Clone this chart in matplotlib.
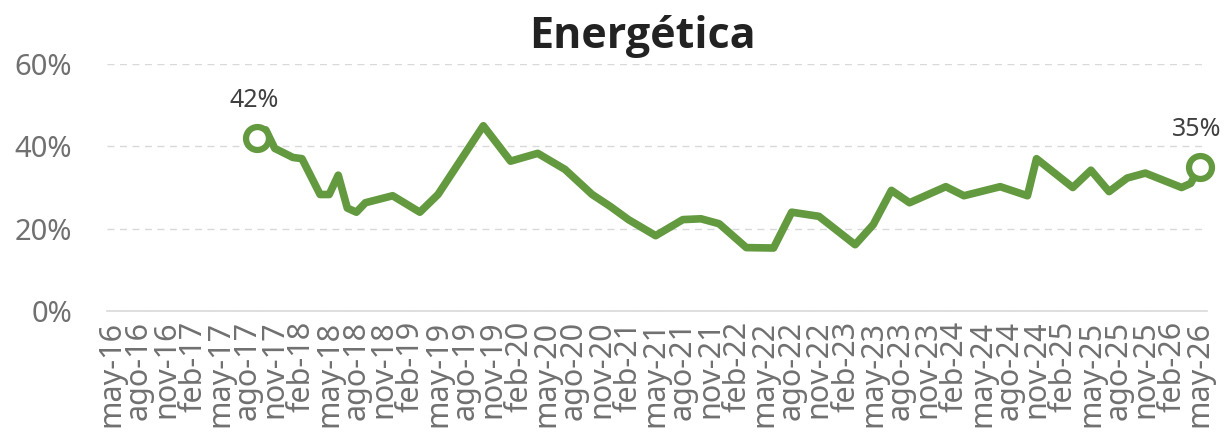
import numpy as np
import pandas as pd
import matplotlib.pyplot as plt

plt.rcParams['font.family'] = ['Noto Sans', 'DejaVu Sans']

# monthly readings (year-month) and share in %
months = ["2017-09", "2017-10", "2017-11", "2018-01", "2018-02", "2018-04", "2018-05",
          "2018-06", "2018-07", "2018-08", "2018-09", "2018-12", "2019-03", "2019-05",
          "2019-10", "2020-01", "2020-04", "2020-07", "2020-10", "2020-12", "2021-02",
          "2021-05", "2021-08", "2021-10", "2021-12", "2022-03", "2022-06", "2022-08",
          "2022-11", "2023-03", "2023-05", "2023-07", "2023-09", "2024-01", "2024-03",
          "2024-07", "2024-10", "2024-11", "2025-03", "2025-05", "2025-07", "2025-09",
          "2025-11", "2026-03", "2026-04", "2026-05"]
values = [42, 44, 39.5, 37.3, 37, 28.3, 28.3, 33, 25, 24, 26.3, 28, 24, 28.3,
          45, 36.4, 38.3, 34.4, 28.3, 25.4, 22.2, 18.3, 22.2, 22.4, 21.2, 15.4, 15.3, 24,
          23, 16.1, 21, 29.3, 26.3, 30.2, 28, 30.2, 28, 37, 30, 34.2, 29, 32.3,
          33.5, 30, 31, 35]

start = pd.Period("2016-05", freq="M")
end = pd.Period("2026-05", freq="M")
mes = {1: "ene", 2: "feb", 3: "mar", 4: "abr", 5: "may", 6: "jun",
       7: "jul", 8: "ago", 9: "sep", 10: "oct", 11: "nov", 12: "dic"}
tick_periods = list(pd.period_range(start, end, freq="M"))[::3]
tick_labels = [f"{mes[p.month]}-{p.year % 100:02d}" for p in tick_periods]

x = np.array([(pd.Period(m, freq="M") - start).n for m in months])
y = np.array(values)
tick_x = [(p - start).n for p in tick_periods]

green = '#63993f'
grey = '#707070'

fig = plt.figure(figsize=(12.3, 4.4), dpi=100)
ax = fig.add_axes([107 / 1230, 1 - 311 / 440, 1100 / 1230, 247 / 440])

ax.plot(x, y, color=green, lw=5.5, solid_joinstyle='round', solid_capstyle='round', zorder=3)
ax.plot([x[0], x[-1]], [y[0], y[-1]], 'o', ms=16.5, mfc='white', mec=green, mew=4.5,
        zorder=4, clip_on=False)
for xi, yi in [(x[0], y[0]), (x[-1], y[-1])]:
    ax.annotate(f"{yi:.0f}%", (xi, yi), xytext=(-2, 27), textcoords='offset points',
                ha='center', va='center', fontsize=18, color='#404040')

ax.set_xlim(-0.5, 120.8)
ax.set_ylim(0, 60)
ax.set_yticks([0, 20, 40, 60])
ax.set_yticklabels([f"{v}%" for v in [0, 20, 40, 60]])
ax.set_xticks(tick_x)
ax.set_xticklabels(tick_labels, rotation=90)
ax.tick_params(axis='y', length=0, pad=25, labelsize=21, labelcolor=grey)
ax.tick_params(axis='x', length=0, pad=7, labelsize=22, labelcolor=grey)

ax.grid(axis='y', color='#d9d9d9', ls=(0, (5, 4)), lw=1)
for s in ['top', 'right', 'left']:
    ax.spines[s].set_visible(False)
ax.spines['bottom'].set_color('#d9d9d9')
ax.spines['bottom'].set_linewidth(1.2)

fig.text(642 / 1230, 1 - 36 / 440, "Energética", ha='center', va='center',
         fontsize=31, fontweight='bold', color='#222222',
         family=['Open Sans', 'Roboto', 'DejaVu Sans'])

fig.savefig('out.png', dpi=100)
